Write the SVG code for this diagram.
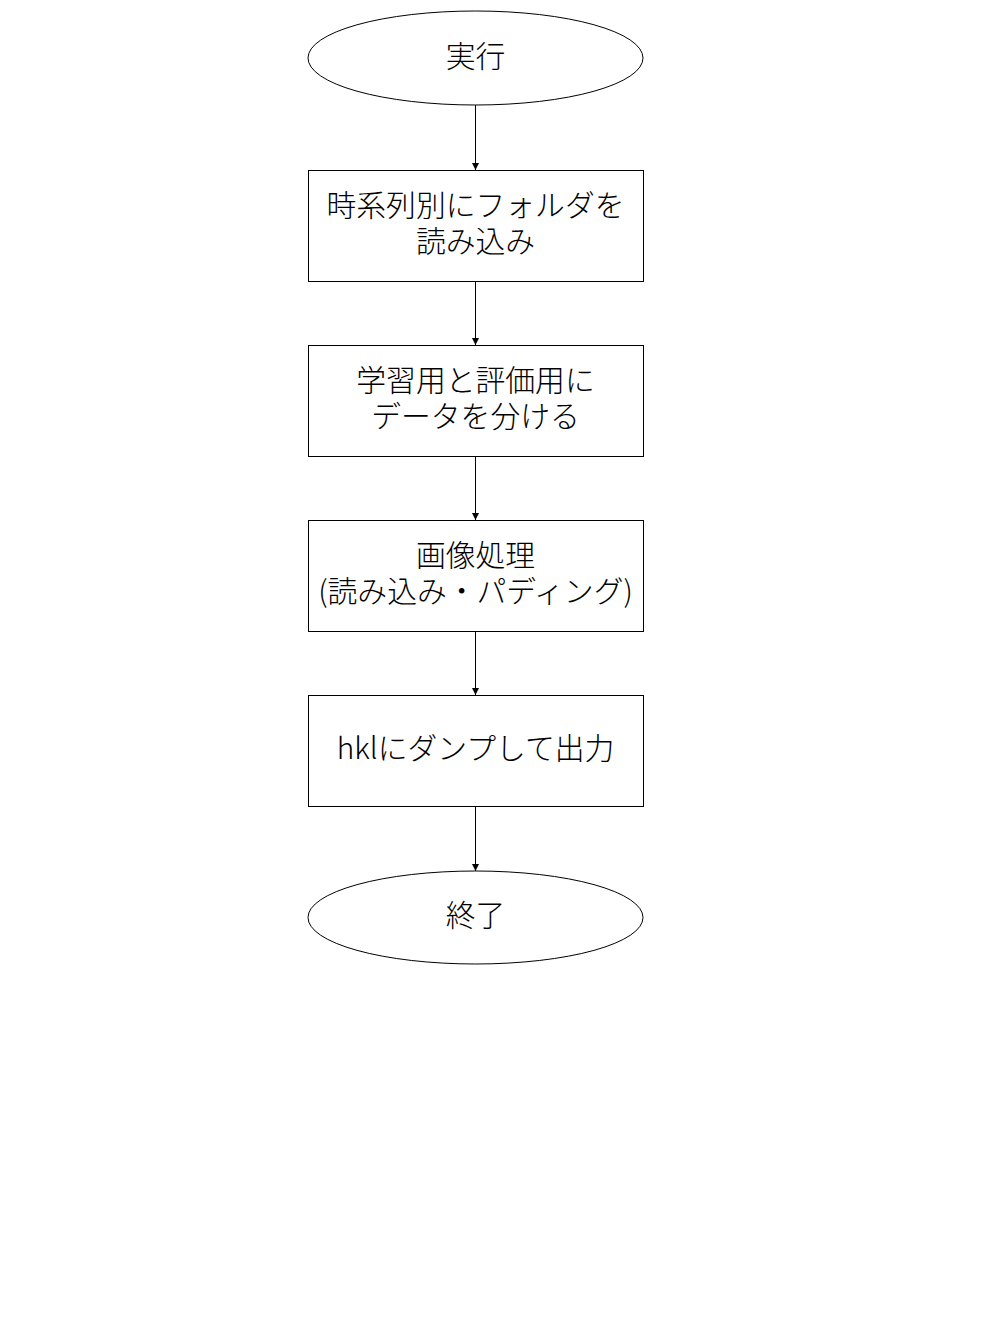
<svg xmlns="http://www.w3.org/2000/svg" width="1008" height="1344" viewBox="0 0 1008 1344">
<defs>
<style>
.shape{fill:#ffffff;stroke:#000000;stroke-width:1}
.lbl{font-family:"Noto Sans CJK JP","Noto Sans",sans-serif;font-size:29.8px;font-weight:300;fill:#000000;text-anchor:middle}
.conn{stroke:#000000;stroke-width:1;fill:none}
</style>
<marker id="arrow" viewBox="0 0 10 10" refX="10" refY="5" markerWidth="7" markerHeight="7" markerUnits="userSpaceOnUse" orient="auto">
<path d="M0,0 L10,5 L0,10 z" fill="#000000"/>
</marker>
</defs>
<rect width="1008" height="1344" fill="#ffffff"/>
<g id="connectors">
<line class="conn" x1="475.5" y1="105" x2="475.5" y2="170" marker-end="url(#arrow)"/>
<line class="conn" x1="475.5" y1="281" x2="475.5" y2="345" marker-end="url(#arrow)"/>
<line class="conn" x1="475.5" y1="456" x2="475.5" y2="520" marker-end="url(#arrow)"/>
<line class="conn" x1="475.5" y1="631" x2="475.5" y2="695" marker-end="url(#arrow)"/>
<line class="conn" x1="475.5" y1="806" x2="475.5" y2="871" marker-end="url(#arrow)"/>
</g>
<g id="start">
<ellipse class="shape" cx="475.5" cy="58" rx="167.5" ry="47"/>
<text class="lbl" x="475.5" y="67">実行</text>
</g>
<g id="load-folders">
<rect class="shape" x="308.5" y="170.5" width="335" height="111"/>
<text class="lbl" x="475.5" y="216">時系列別にフォルダを</text>
<text class="lbl" x="475.5" y="252">読み込み</text>
</g>
<g id="split-data">
<rect class="shape" x="308.5" y="345.5" width="335" height="111"/>
<text class="lbl" x="475.5" y="391">学習用と評価用に</text>
<text class="lbl" x="475.5" y="427">データを分ける</text>
</g>
<g id="image-processing">
<rect class="shape" x="308.5" y="520.5" width="335" height="111"/>
<text class="lbl" x="475.5" y="566">画像処理</text>
<text class="lbl" x="475.5" y="602">(読み込み・パディング)</text>
</g>
<g id="dump-output">
<rect class="shape" x="308.5" y="695.5" width="335" height="111"/>
<text class="lbl" x="475.5" y="759">hklにダンプして出力</text>
</g>
<g id="end">
<ellipse class="shape" cx="475.5" cy="917.5" rx="167.5" ry="46.5"/>
<text class="lbl" x="475.5" y="926">終了</text>
</g>
</svg>
